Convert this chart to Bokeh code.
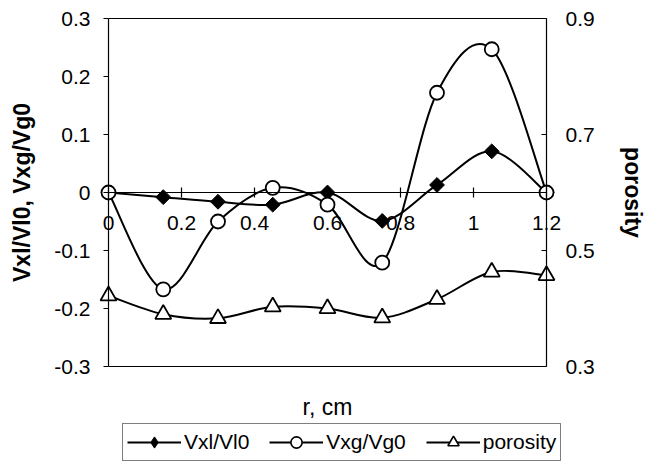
import numpy as np
from bokeh.plotting import figure
from bokeh.models import (Range1d, LinearAxis, FixedTicker, Legend, LegendItem,
                          ColumnDataSource)
from bokeh.embed import file_html
from bokeh.resources import INLINE

# ---- data ----
r = [0.0, 0.15, 0.3, 0.45, 0.6, 0.75, 0.9, 1.05, 1.2]
vxl = [0.0, -0.008, -0.016, -0.021, 0.0, -0.049, 0.013, 0.071, 0.0]
vxg = [0.0, -0.167, -0.050, 0.008, -0.021, -0.121, 0.172, 0.247, 0.0]
porosity = [0.422, 0.390, 0.383, 0.403, 0.400, 0.384, 0.416, 0.463, 0.457]

left_ticks = [-0.3, -0.2, -0.1, 0.0, 0.1, 0.2, 0.3]
left_labels = ["-0.3", "-0.2", "-0.1", "0", "0.1", "0.2", "0.3"]
right_ticks = [0.3, 0.5, 0.7, 0.9]
right_labels = ["0.3", "0.5", "0.7", "0.9"]
x_ticks = [0.0, 0.2, 0.4, 0.6, 0.8, 1.0, 1.2]
x_labels = ["0", "0.2", "0.4", "0.6", "0.8", "1", "1.2"]

X_MIN, X_MAX = 0.0, 1.2
Y_MIN, Y_MAX = -0.3, 0.3
P_MIN, P_MAX = 0.3, 0.9

FONT = "Liberation Sans"
W, H = 645, 461
BOX_L, BOX_R, BOX_T, BOX_B = 108, 546, 18, 366   # pixel box of the plotting area

# data->pixel scale so that the axes box sits at the reference position
sx = (BOX_R - BOX_L) / (X_MAX - X_MIN)
sy = (BOX_B - BOX_T) / (Y_MAX - Y_MIN)
x_range = Range1d(X_MIN - BOX_L / sx, X_MAX + (W - BOX_R) / sx)
y_range = Range1d(Y_MIN - (H - BOX_B) / sy, Y_MAX + BOX_T / sy)
p_off = (P_MIN - Y_MIN)
por_range = Range1d(y_range.start + p_off, y_range.end + p_off)


def smooth_segments(xs, ys):
    """Catmull-Rom (Excel-style smoothed line) bezier control points."""
    x = np.asarray(xs, float)
    y = np.asarray(ys, float)
    xp = np.concatenate([[x[0]], x, [x[-1]]])
    yp = np.concatenate([[y[0]], y, [y[-1]]])
    d = dict(x0=[], y0=[], x1=[], y1=[], cx0=[], cy0=[], cx1=[], cy1=[])
    for i in range(len(x) - 1):
        p0x, p0y = xp[i], yp[i]
        p1x, p1y = xp[i + 1], yp[i + 1]
        p2x, p2y = xp[i + 2], yp[i + 2]
        p3x, p3y = xp[i + 3], yp[i + 3]
        d["x0"].append(p1x); d["y0"].append(p1y)
        d["x1"].append(p2x); d["y1"].append(p2y)
        d["cx0"].append(p1x + (p2x - p0x) / 6); d["cy0"].append(p1y + (p2y - p0y) / 6)
        d["cx1"].append(p2x - (p3x - p1x) / 6); d["cy1"].append(p2y - (p3y - p1y) / 6)
    return ColumnDataSource(d)


p = figure(width=W, height=H, output_backend="svg", toolbar_location=None,
           x_range=x_range, y_range=y_range, x_axis_location=None,
           y_axis_location=None, min_border=0, min_border_left=0,
           min_border_right=0, min_border_top=0, min_border_bottom=0,
           background_fill_color="white", border_fill_color="white",
           outline_line_color=None)
p.grid.visible = False
p.extra_y_ranges = {"por": por_range}


def style_axis(ax):
    ax.minor_tick_out = 0
    ax.minor_tick_in = 0
    ax.major_label_text_font = FONT
    ax.major_label_text_font_size = "21px"
    ax.major_label_text_color = "black"
    ax.axis_label_text_font = FONT
    ax.axis_label_text_color = "black"
    ax.axis_line_color = "black"
    ax.axis_line_width = 1.2
    ax.major_tick_line_color = "black"
    ax.major_tick_line_width = 1.2


# left axis (at x = 0)
la = LinearAxis(ticker=FixedTicker(ticks=left_ticks), fixed_location=X_MIN,
                bounds=(Y_MIN, Y_MAX))
style_axis(la)
la.major_label_overrides = dict(zip(left_ticks, left_labels))
la.major_tick_out = 5
la.major_tick_in = 0
la.major_label_standoff = 13
la.axis_label = "Vxl/Vl0, Vxg/Vg0"
la.axis_label_text_font_style = "bold"
la.axis_label_text_font_size = "23px"
la.axis_label_standoff = 16
p.add_layout(la, "left")

# right axis (at x = 1.2)
ra = LinearAxis(y_range_name="por", ticker=FixedTicker(ticks=right_ticks),
                fixed_location=X_MAX, bounds=(P_MIN, P_MAX))
style_axis(ra)
ra.major_label_overrides = dict(zip(right_ticks, right_labels))
ra.major_tick_out = 0
ra.major_tick_in = 5
ra.major_label_standoff = 19
ra.axis_label = "porosity"
ra.axis_label_text_font_style = "bold"
ra.axis_label_text_font_size = "23px"
ra.axis_label_standoff = 22
p.add_layout(ra, "right")

# x axis crossing at y = 0
xa = LinearAxis(ticker=FixedTicker(ticks=x_ticks), fixed_location=0.0,
                bounds=(X_MIN, X_MAX))
style_axis(xa)
xa.major_label_overrides = dict(zip(x_ticks, x_labels))
xa.major_tick_out = 5
xa.major_tick_in = 5
xa.major_label_standoff = 18
p.add_layout(xa, "below")

# bottom edge of the box, carrying the axis title
ba = LinearAxis(ticker=FixedTicker(ticks=[]), fixed_location=Y_MIN,
                bounds=(X_MIN, X_MAX))
style_axis(ba)
ba.major_tick_out = 0
ba.major_tick_in = 0
ba.major_label_standoff = 0
ba.axis_label = "r, cm"
ba.axis_label_text_font_style = "normal"
ba.axis_label_text_font_size = "23px"
ba.axis_label_standoff = 27
p.add_layout(ba, "below")

# top edge of the box
ta = LinearAxis(ticker=FixedTicker(ticks=[]), fixed_location=Y_MAX,
                bounds=(X_MIN, X_MAX))
style_axis(ta)
ta.major_tick_out = 0
ta.major_tick_in = 0
ta.major_label_standoff = 0
p.add_layout(ta, "above")

LW = 2
# Vxl/Vl0
s1 = smooth_segments(r, vxl)
p.bezier(x0="x0", y0="y0", x1="x1", y1="y1", cx0="cx0", cy0="cy0",
         cx1="cx1", cy1="cy1", source=s1, line_color="black", line_width=LW)
p.scatter(r, vxl, marker="square", angle=np.pi / 4, size=10.5,
          fill_color="black", line_color="black", line_width=1)

# Vxg/Vg0
s2 = smooth_segments(r, vxg)
p.bezier(x0="x0", y0="y0", x1="x1", y1="y1", cx0="cx0", cy0="cy0",
         cx1="cx1", cy1="cy1", source=s2, line_color="black", line_width=LW)
p.scatter(r, vxg, marker="circle", size=14, fill_color="white",
          line_color="black", line_width=1.8)

# porosity
s3 = smooth_segments(r, porosity)
p.bezier(x0="x0", y0="y0", x1="x1", y1="y1", cx0="cx0", cy0="cy0",
         cx1="cx1", cy1="cy1", source=s3, line_color="black", line_width=LW,
         y_range_name="por")
p.scatter(r, porosity, marker="triangle", size=16, fill_color="white",
          line_color="black", line_width=1.8, y_range_name="por")

# legend proxies (line through marker)
nan = [np.nan]
lp1 = p.line(nan, nan, line_color="black", line_width=LW)
lm1 = p.scatter(nan, nan, marker="diamond", size=17, fill_color="black",
                line_color="black", line_width=1)
lp2 = p.line(nan, nan, line_color="black", line_width=LW)
lm2 = p.scatter(nan, nan, marker="circle", size=12, fill_color="white",
                line_color="black", line_width=1.6)
lp3 = p.line(nan, nan, line_color="black", line_width=LW)
lm3 = p.scatter(nan, nan, marker="triangle", size=14, fill_color="white",
                line_color="black", line_width=1.6)

legend = Legend(items=[
    LegendItem(label="Vxl/Vl0", renderers=[lp1, lm1]),
    LegendItem(label="Vxg/Vg0", renderers=[lp2, lm2]),
    LegendItem(label="porosity", renderers=[lp3, lm3]),
], orientation="horizontal", location=(122, 0),
    label_text_font=FONT, label_text_font_size="21px", label_text_color="black",
    glyph_width=54, glyph_height=28, label_standoff=3, spacing=20, padding=4,
    margin=0, border_line_color="black", border_line_width=1.2,
    background_fill_color="white", background_fill_alpha=1)
p.add_layout(legend, "center")

open("out.html", "w").write(file_html(p, INLINE))
